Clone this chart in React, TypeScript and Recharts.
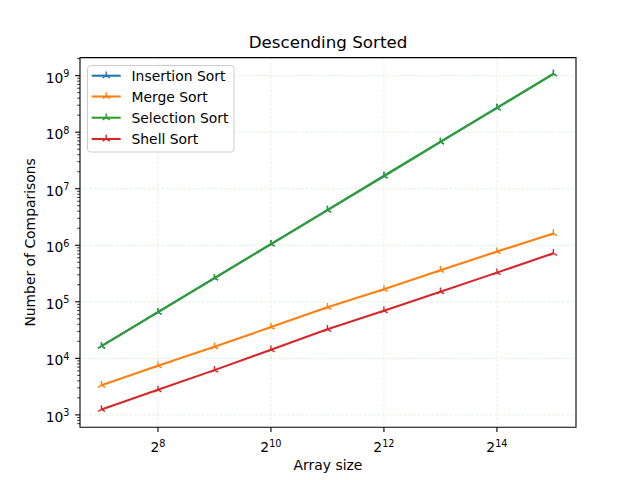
import React from 'react';
import { LineChart, Line, XAxis, YAxis, CartesianGrid, ReferenceArea } from 'recharts';

// array sizes (powers of two) and comparison counts
const sizes = [128, 256, 512, 1024, 2048, 4096, 8192, 16384, 32768];
const insertionSort = [16384, 65536, 262144, 1048576, 4194304, 16777216, 67108864, 268435456, 1073741824];
const mergeSort = [3350, 7400, 16000, 35700, 80000, 166000, 361000, 773000, 1610000];
const selectionSort = [16384, 65536, 262144, 1048576, 4194304, 16777216, 67108864, 268435456, 1073741824];
const shellSort = [1250, 2770, 6190, 14200, 32600, 69500, 151000, 328000, 722000];

const xTicks = [256, 1024, 4096, 16384];
const yTicks = [1e3, 1e4, 1e5, 1e6, 1e7, 1e8, 1e9];

const series = [
  { key: 'insertion', name: 'Insertion Sort', color: '#1f77b4' },
  { key: 'merge', name: 'Merge Sort', color: '#ff7f0e' },
  { key: 'selection', name: 'Selection Sort', color: '#2ca02c' },
  { key: 'shell', name: 'Shell Sort', color: '#d62728' }
];

const data = sizes.map((n, i) => ({
  n,
  insertion: insertionSort[i],
  merge: mergeSort[i],
  selection: selectionSort[i],
  shell: shellSort[i]
}));

const X_DOMAIN = [Math.pow(2, 6.62), Math.pow(2, 15.4)];
const Y_DOMAIN = [Math.pow(10, 2.782), Math.pow(10, 9.319)];

// minor log ticks 2..9 per decade inside the y domain
const yMinor: number[] = [];
for (let e = 2; e <= 9; e++) {
  for (let m = 2; m <= 9; m++) {
    const v = m * Math.pow(10, e);
    if (v > Y_DOMAIN[0] && v < Y_DOMAIN[1]) yMinor.push(v);
  }
}

const FONT = '"DejaVu Sans", sans-serif';
const PLOT_LEFT = 80;
const PLOT_BOTTOM = 427.2;

const triUp = (cx: number, cy: number, color: string, k?: string) => {
  const r = 4.2;
  return (
    <g key={k} stroke={color} strokeWidth={1.4} fill="none">
      <line x1={cx} y1={cy} x2={cx} y2={cy - r} />
      <line x1={cx} y1={cy} x2={cx - r * 0.866} y2={cy + r * 0.5} />
      <line x1={cx} y1={cy} x2={cx + r * 0.866} y2={cy + r * 0.5} />
    </g>
  );
};

const XTick = (props: any) => {
  const { x, payload } = props;
  const exp = Math.round(Math.log2(payload.value));
  return (
    <g>
      <line x1={x} x2={x} y1={PLOT_BOTTOM} y2={PLOT_BOTTOM + 4.9} stroke="#000" strokeWidth={1.1} />
      <text x={x} y={452} textAnchor="middle" fontFamily={FONT} fontSize={13.9} fill="#000">
        <tspan>2</tspan>
        <tspan dy={-5} fontSize={9.7}>{exp}</tspan>
      </text>
    </g>
  );
};

const YTick = (props: any) => {
  const { y, payload } = props;
  const v = payload.value;
  const exp = Math.log10(v);
  const isMajor = Math.abs(exp - Math.round(exp)) < 1e-6;
  if (!isMajor) {
    return <line x1={PLOT_LEFT} x2={PLOT_LEFT - 2.8} y1={y} y2={y} stroke="#000" strokeWidth={0.8} />;
  }
  return (
    <g>
      <line x1={PLOT_LEFT} x2={PLOT_LEFT - 4.9} y1={y} y2={y} stroke="#000" strokeWidth={1.1} />
      <text x={69.5} y={y + 7} textAnchor="end" fontFamily={FONT} fontSize={13.9} fill="#000">
        <tspan>10</tspan>
        <tspan dy={-5.5} fontSize={9.7}>{Math.round(exp)}</tspan>
      </text>
    </g>
  );
};

const LegendBox = () => (
  <svg width={148} height={88} style={{ display: 'block' }}>
    <rect x={0.5} y={0.5} width={146.5} height={86.5} rx={3} fill="rgba(255,255,255,0.8)" stroke="#cccccc" />
    {series.map((s, i) => {
      const ry = [10.7, 31.5, 52.7, 74][i];
      return (
        <g key={s.key}>
          <line x1={4.7} x2={33.7} y1={ry} y2={ry} stroke={s.color} strokeWidth={2.08} />
          {triUp(19.2, ry, s.color)}
          <text x={44.5} y={ry + 5} fontFamily={FONT} fontSize={13.9} fill="#000">{s.name}</text>
        </g>
      );
    })}
  </svg>
);

export default function App() {
  return (
    <div style={{ position: 'absolute', left: 0, top: 0, width: 640, height: 480, background: '#fff' }}>
      <LineChart width={640} height={480} data={data} margin={{ top: 57.6, right: 64, bottom: 0, left: 0 }}>
        <CartesianGrid
          stroke="#e3f0e3"
          strokeDasharray="3 1.5"
          horizontalValues={yTicks}
          verticalValues={xTicks}
        />
        <XAxis
          dataKey="n"
          type="number"
          scale="log"
          domain={X_DOMAIN}
          allowDataOverflow
          ticks={xTicks}
          tick={<XTick />}
          tickLine={false}
          axisLine={false}
          height={52.8}
          interval={0}
        />
        <YAxis
          type="number"
          scale="log"
          domain={Y_DOMAIN}
          allowDataOverflow
          ticks={[...yTicks, ...yMinor]}
          tick={<YTick />}
          tickLine={false}
          axisLine={false}
          width={80}
          interval={0}
        />
        {series.map(s => (
          <Line
            key={s.key}
            dataKey={s.key}
            name={s.name}
            stroke={s.color}
            strokeWidth={2.08}
            isAnimationActive={false}
            dot={(p: any) => triUp(p.cx, p.cy, s.color, `${s.key}-${p.index}`)}
            activeDot={false}
          />
        ))}
        <ReferenceArea
          x1={X_DOMAIN[0]}
          x2={X_DOMAIN[1]}
          y1={Y_DOMAIN[0]}
          y2={Y_DOMAIN[1]}
          fill="none"
          stroke="#000"
          strokeWidth={1.1}
          ifOverflow="visible"
        />
      </LineChart>
      <div style={{ position: 'absolute', left: 87, top: 65 }}>
        <LegendBox />
      </div>
      <svg width={640} height={480} style={{ position: 'absolute', left: 0, top: 0, pointerEvents: 'none' }}>
        <text x={328} y={48} textAnchor="middle" fontFamily={FONT} fontSize={16.7} fill="#000">
          Descending Sorted
        </text>
        <text x={328} y={470} textAnchor="middle" fontFamily={FONT} fontSize={13.9} fill="#000">
          Array size
        </text>
        <text
          x={0}
          y={0}
          transform="translate(35,242.4) rotate(-90)"
          textAnchor="middle"
          fontFamily={FONT}
          fontSize={13.9}
          fill="#000"
        >
          Number of Comparisons
        </text>
      </svg>
    </div>
  );
}
